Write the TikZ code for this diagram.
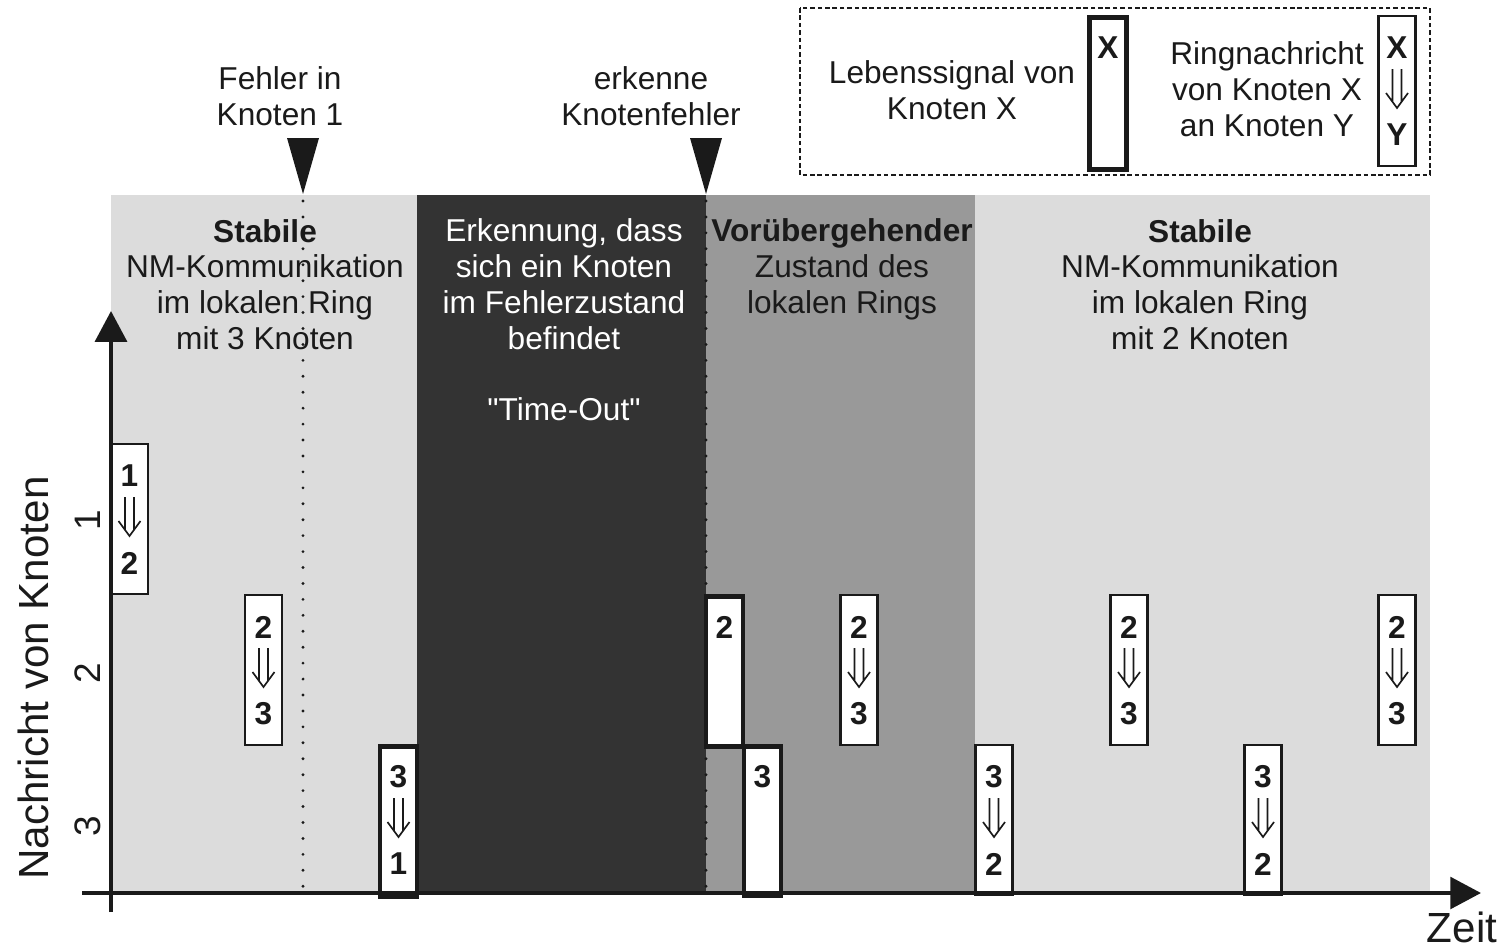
\documentclass[tikz,border=0pt]{standalone}
\usepackage{fontspec}
\setmainfont{Liberation Sans}
\setsansfont{Liberation Sans}
\usetikzlibrary{arrows.meta,calc}

\definecolor{phaselight}{HTML}{DCDCDC}
\definecolor{phasemid}{HTML}{999999}
\definecolor{phasedark}{HTML}{333333}
\definecolor{ink}{HTML}{1A1A1A}

% message box: name, centre x, top y, sender, receiver, box style
\newcommand{\ringmsg}[6]{%
  \node[#6, anchor=north] (#1) at (#2,#3) {};
  \node[digit] (#1-s) at ($(#1.north)+(0,33)$) {#4};
  \coordinate (#1-a) at ($(#1.north)+(0,54)$);
  \draw[dblarrow] ($(#1-a)+(-4.5,0)$) -- ++(0,32.5)
                  ($(#1-a)+(4.5,0)$) -- ++(0,32.5)
                  ($(#1-a)+(-11,24)$) -- ($(#1-a)+(0,39)$) -- ($(#1-a)+(11,24)$);
  \node[digit] (#1-r) at ($(#1.north)+(0,120)$) {#5};
}
% life signal box: name, centre x, top y, node, height
\newcommand{\lifesig}[5]{%
  \node[lifebox, minimum height=#5*0.02cm, anchor=north] (#1) at (#2,#3) {};
  \node[digit] (#1-s) at ($(#1.north)+(0,33)$) {#4};
}

\begin{document}
\begin{tikzpicture}[x=0.02cm, y=-0.02cm,
  every node/.style={font=\fontsize{18}{20.4}\selectfont, text=ink, inner sep=0pt},
  msgbox/.style={draw=ink, fill=white, line width=1.2pt, minimum width=0.74cm, minimum height=3cm},
  lifebox/.style={draw=ink, fill=white, line width=2.7pt, minimum width=0.74cm, minimum height=3cm},
  digit/.style={font=\fontsize{18}{20.4}\selectfont\bfseries},
  dblarrow/.style={draw=ink, line width=0.95pt},
  phasetext/.style={align=center},
  axis/.style={draw=ink, line width=2.3pt},
  dotline/.style={draw=ink, line width=1.8pt, line cap=round, dash pattern=on 0pt off 9.07pt},
  marker/.style={fill=ink},
  bigtext/.style={font=\fontsize{24}{28}\selectfont}]

\useasboundingbox (0,0) rectangle (1510,950);

% phase backgrounds
\fill[phaselight] (111,195) rectangle (417,893);
\fill[phasedark]  (417,195) rectangle (706,893);
\fill[phasemid]   (706,195) rectangle (975,893);
\fill[phaselight] (975,195) rectangle (1430,893);

% phase descriptions
\node[phasetext] (p1) at (265,284.5) {\textbf{Stabile}\\NM-Kommunikation\\im lokalen Ring\\mit 3 Knoten};
\node[phasetext, text=white] (p2) at (564,320) {Erkennung, dass\\sich ein Knoten\\im Fehlerzustand\\befindet\\[20.3pt]\textquotedbl Time-Out\textquotedbl};
\node[phasetext] (p3) at (842,269) {\textbf{Vorübergehender}\\Zustand des\\lokalen Rings};
\node[phasetext] (p4) at (1200,284.5) {\textbf{Stabile}\\NM-Kommunikation\\im lokalen Ring\\mit 2 Knoten};

% event lines and markers
\coordinate (e1) at (303,194);
\coordinate (e2) at (706,194);
\draw[dotline] (303,201) -- (303,890);
\draw[dotline] (706,201) -- (706,890);
\fill[marker] ($(e1)+(-16,-56)$) -- ($(e1)+(16,-56)$) -- (e1) -- cycle;
\fill[marker] ($(e2)+(-16,-56)$) -- ($(e2)+(16,-56)$) -- (e2) -- cycle;
\node[align=center] (ev1) at (280,96) {Fehler in\\Knoten 1};
\node[align=center] (ev2) at (651,96) {erkenne\\Knotenfehler};

% messages
\ringmsg{m12}{129.5}{443}{1}{2}{msgbox}
\ringmsg{m23a}{263.5}{594}{2}{3}{msgbox}
\ringmsg{m31}{398.5}{744}{3}{1}{lifebox}
\lifesig{s2}{724.5}{594}{2}{150}
\lifesig{s3}{762.5}{744}{3}{149}
\ringmsg{m23b}{859}{594}{2}{3}{msgbox}
\ringmsg{m32a}{994}{744}{3}{2}{msgbox}
\ringmsg{m23c}{1129}{594}{2}{3}{msgbox}
\ringmsg{m32b}{1263}{744}{3}{2}{msgbox}
\ringmsg{m23d}{1397}{594}{2}{3}{msgbox}

% axes
\coordinate (o) at (111,893);
\draw[axis, -{Triangle[length=17.5pt,width=18pt]}] (111,912) -- (111,311);
\draw[axis, -{Triangle[length=17.5pt,width=18pt]}] (82,893) -- (1481,893);
\node[bigtext, rotate=90] (ylab) at (33,678) {Nachricht von Knoten};
\node[font=\fontsize{21}{24}\selectfont, rotate=90] (t1) at (88,520) {1};
\node[font=\fontsize{21}{24}\selectfont, rotate=90] (t2) at (88,673) {2};
\node[font=\fontsize{21}{24}\selectfont, rotate=90] (t3) at (88,826) {3};
\node[bigtext] (xlab) at (1462,927) {Zeit};

% legend
\draw[draw=ink, line width=1.2pt, dash pattern=on 2.6pt off 1.6pt] (800,8) rectangle (1430,175);
\node[align=center] (lg1) at (952,90) {Lebenssignal von\\Knoten X};
\lifesig{lgs}{1108}{15}{X}{152}
\node[align=center] (lg2) at (1267,89) {Ringnachricht\\von Knoten X\\an Knoten Y};
\ringmsg{lgm}{1397}{15}{X}{Y}{msgbox}
\end{tikzpicture}
\end{document}
